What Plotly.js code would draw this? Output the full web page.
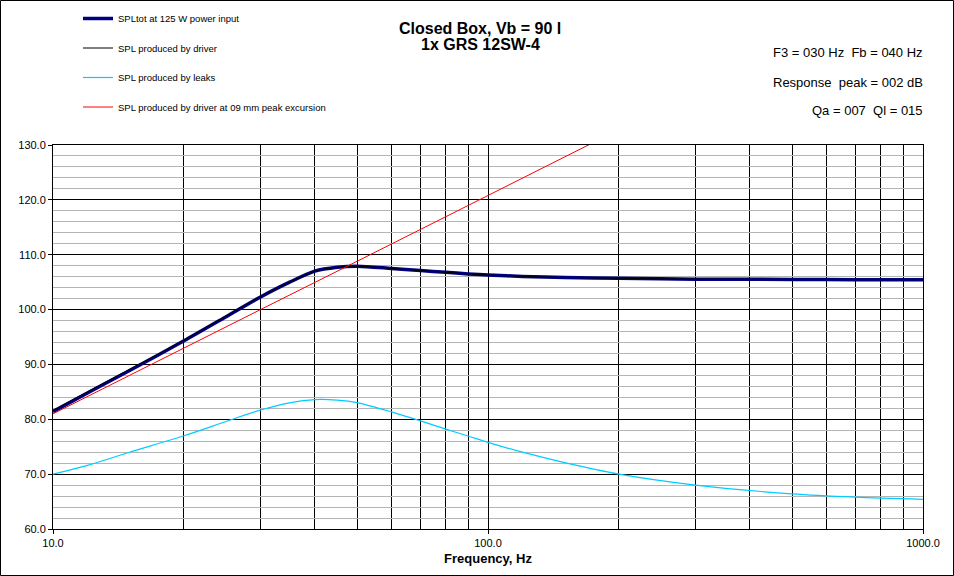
<!DOCTYPE html>
<html>
<head>
<meta charset="utf-8">
<script src="https://cdn.plot.ly/plotly-3.0.1.min.js"></script>
<style>
  html, body { margin: 0; padding: 0; background: #fff; }
  #chart { width: 954px; height: 576px; }
</style>
</head>
<body>
<div id="chart"></div>
<script>
// frequencies in Hz
const freq = [10, 12, 15, 20, 25, 30, 35, 40, 45, 50, 60, 70, 80, 90, 100, 120, 150, 200, 300, 500, 700, 1000];

// SPL values in dB
const splTotal  = [81.4, 84.8, 88.9, 94.3, 98.7, 102.3, 105.0, 107.0, 107.7, 107.9, 107.5, 107.1, 106.8, 106.5, 106.3, 106.05, 105.85, 105.7, 105.55, 105.5, 105.45, 105.45];
const splDriver = [81.6, 85.0, 89.1, 94.4, 98.8, 102.4, 105.0, 107.0, 107.7, 107.9, 107.5, 107.1, 106.8, 106.5, 106.3, 106.05, 105.85, 105.7, 105.55, 105.5, 105.45, 105.45];
const splLeaks  = [70.0, 71.6, 74.0, 77.0, 79.6, 81.7, 83.0, 83.6, 83.5, 83.05, 81.35, 79.7, 78.2, 76.95, 75.8, 74.0, 72.1, 70.0, 68.0, 66.4, 65.8, 65.4];

const freqExc = [10, 20, 30, 50, 100, 200];
const splExc  = [81.0, 92.9, 100.0, 108.8, 120.8, 132.8];

const names = [
  "SPLtot at 125 W power input",
  "SPL produced by driver",
  "SPL produced by leaks",
  "SPL produced by driver at 09 mm peak excursion"
];

const majorX = [10, 100, 1000];
const minorX = [20, 30, 40, 50, 60, 70, 80, 90, 200, 300, 400, 500, 600, 700, 800, 900];

const traces = [
  { x: freq, y: splTotal, name: names[0], legendgroup: "a", type: "scatter", mode: "lines",
    line: { color: "#000080", width: 3.5, shape: "spline", smoothing: 0.8 } },
  { x: freq, y: splDriver, name: names[1], legendgroup: "b", type: "scatter", mode: "lines",
    line: { color: "#000000", width: 1, shape: "spline", smoothing: 0.8 } },
  { x: freq, y: splLeaks, name: names[2], legendgroup: "c", type: "scatter", mode: "lines",
    line: { color: "#00ccff", width: 1.2, shape: "spline", smoothing: 0.8 } },
  { x: freqExc, y: splExc, name: names[3], legendgroup: "d", type: "scatter", mode: "lines",
    line: { color: "#ff0000", width: 1 } }
];

const L = 53, R = 923, T = 145, B = 529, W = 954, H = 576;
const px = v => (v - L) / (R - L);
const py = v => (B - v) / (B - T);

const note = (text, x, y, size, bold) => ({
  text: bold ? "<b>" + text + "</b>" : text,
  x: px(x), y: py(y), xref: "paper", yref: "paper",
  xanchor: bold ? "center" : "right", yanchor: "middle",
  showarrow: false, font: { size: size }
});

const layout = {
  width: W, height: H,
  margin: { l: L, r: W - R, t: T, b: H - B, autoexpand: false },
  paper_bgcolor: "#ffffff",
  plot_bgcolor: "#ffffff",
  font: { family: "Liberation Sans, Arial, sans-serif", color: "#000", size: 11 },
  showlegend: true,
  legend: {
    x: px(78), y: py(4), xanchor: "left", yanchor: "top",
    font: { size: 9.5 }, tracegroupgap: 10.5, bgcolor: "rgba(0,0,0,0)"
  },
  xaxis: {
    type: "log", range: [1, 3],
    tickvals: majorX, ticktext: ["10.0", "100.0", "1000.0"],
    ticks: "outside", ticklen: 4, tickcolor: "#000",
    showgrid: true, gridcolor: "#000", gridwidth: 1,
    minor: { tickvals: minorX, showgrid: true, gridcolor: "#000", gridwidth: 1, ticks: "" },
    showline: true, linecolor: "#000", linewidth: 1, mirror: true,
    zeroline: false,
    title: { text: "<b>Frequency, Hz</b>", font: { size: 13 }, standoff: 5 }
  },
  yaxis: {
    range: [60, 130], dtick: 10, tick0: 60, tickformat: ".1f",
    ticks: "outside", ticklen: 4, tickcolor: "#000",
    showgrid: true, gridcolor: "#000", gridwidth: 1,
    minor: { dtick: 2, showgrid: true, gridcolor: "#b4b4b4", gridwidth: 1, ticks: "" },
    showline: true, linecolor: "#000", linewidth: 1, mirror: true,
    zeroline: false
  },
  annotations: [
    note("Closed Box, Vb = 90 l", 480, 28, 16, true),
    note("1x GRS 12SW-4", 480, 45, 16, true),
    note("F3 = 030 Hz&nbsp; Fb = 040 Hz", 925, 52, 13, false),
    note("Response&nbsp; peak = 002 dB", 925, 82, 13, false),
    note("Qa = 007&nbsp; Ql = 015", 925, 111, 13, false)
  ],
  shapes: [
    { type: "rect", xref: "paper", yref: "paper",
      x0: px(0.5), x1: px(W - 0.5), y0: py(H - 0.5), y1: py(0.5),
      line: { color: "#000", width: 1 }, fillcolor: "rgba(0,0,0,0)", layer: "above" }
  ]
};

Plotly.newPlot("chart", traces, layout, { displayModeBar: false, staticPlot: true });
</script>
</body>
</html>
